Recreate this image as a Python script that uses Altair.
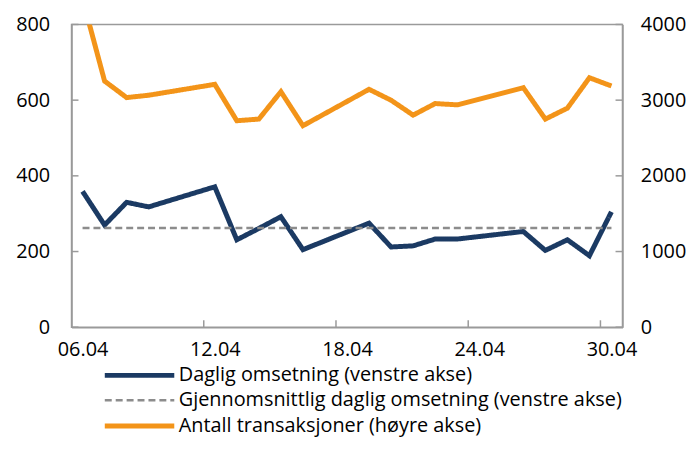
import altair as alt
import pandas as pd

# ---- data ----
days = [6, 7, 8, 9, 12, 13, 14, 15, 16, 19, 20, 21, 22, 23, 26, 27, 28, 29, 30]
daglig = [359, 270, 330, 318, 371, 231, 261, 292, 205, 275, 212, 215, 233, 233, 253, 203, 231, 189, 305]
antall = [4340, 3252, 3034, 3065, 3209, 2728, 2750, 3112, 2662, 3143, 2999, 2802, 2955, 2938, 3165, 2750, 2894, 3296, 3187]
gjennomsnitt = 262
x_label_days = [6, 12, 18, 24, 30]
x_tick_days = [11.5, 17.5, 23.5, 29.5]
left_ticks = [0, 200, 400, 600, 800]
right_ticks = [0, 1000, 2000, 3000, 4000]
series = [
    "Daglig omsetning (venstre akse)",
    "Gjennomsnittlig daglig omsetning (venstre akse)",
    "Antall transaksjoner (høyre akse)",
]

W, H = 555, 305
NAVY = "#1b3a63"
ORANGE = "#f39419"
GREY = "#8c8c8c"
AXIS = "#9a9a9a"
FONT = "Open Sans"
FS = 20

x_scale = alt.Scale(domain=[5.5, 30.5], nice=False, zero=False)
yl_scale = alt.Scale(domain=[0, 800], nice=False)
yr_scale = alt.Scale(domain=[0, 4000], nice=False)

x_axis = alt.Axis(values=x_label_days, labelExpr="format(datum.value,'02d') + '.04'",
                  title=None, ticks=False, grid=False, labelPadding=12)
left_axis = alt.Axis(title=None, values=left_ticks, ticks=False, grid=False, labelPadding=22)
right_axis = alt.Axis(title=None, orient="right", values=right_ticks, format="d", ticks=False,
                      grid=False, labelPadding=18)

legend = alt.Legend(title=None, orient="none", legendX=31, legendY=341,
                    symbolType="M-1,0L6,0", symbolSize=400, labelFontSize=FS, labelFont=FONT,
                    labelColor="#000000", labelOffset=52, rowPadding=3, labelLimit=0,
                    direction="vertical")

color = alt.Color("series:N", scale=alt.Scale(domain=series, range=[NAVY, GREY, ORANGE]), legend=legend)
dash = alt.StrokeDash("series:N", scale=alt.Scale(type="ordinal", domain=series,
                                                   range=[[1, 0], [7, 4], [1, 0]]), legend=legend)
sw = alt.StrokeWidth("series:N", scale=alt.Scale(type="ordinal", domain=series,
                                                  range=[5, 2.5, 5]), legend=legend)

df_d = pd.DataFrame({"day": days, "value": daglig, "series": series[0]})
df_avg = pd.DataFrame({"day": [days[0], days[-1]], "value": [gjennomsnitt, gjennomsnitt], "series": series[1]})
df_a = pd.DataFrame({"day": days, "value": antall, "series": series[2]})

x_enc = alt.X("day:Q", scale=x_scale, axis=x_axis)

blue = alt.Chart(df_d).mark_line().encode(
    x=x_enc, y=alt.Y("value:Q", scale=yl_scale, axis=left_axis),
    color=color, strokeDash=dash, strokeWidth=sw)
avg = alt.Chart(df_avg).mark_line().encode(
    x=x_enc, y=alt.Y("value:Q", scale=yl_scale, axis=left_axis),
    color=color, strokeDash=dash, strokeWidth=sw)
lticks = alt.Chart(pd.DataFrame({"value": left_ticks})).mark_rule(color=AXIS, strokeWidth=1.5).encode(
    y=alt.Y("value:Q", scale=yl_scale, axis=left_axis), x=alt.value(0), x2=alt.value(7))
xticks = alt.Chart(pd.DataFrame({"day": x_tick_days})).mark_rule(color=AXIS, strokeWidth=1.5).encode(
    x=x_enc, y=alt.value(H - 7), y2=alt.value(H))

left = alt.layer(blue, avg, lticks, xticks)

orange = alt.Chart(df_a).mark_line(clip=True).encode(
    x=x_enc, y=alt.Y("value:Q", scale=yr_scale, axis=right_axis),
    color=color, strokeDash=dash, strokeWidth=sw)
rticks = alt.Chart(pd.DataFrame({"value": right_ticks})).mark_rule(color=AXIS, strokeWidth=1.5).encode(
    y=alt.Y("value:Q", scale=yr_scale, axis=right_axis), x=alt.value(W - 7), x2=alt.value(W))

right = alt.layer(orange, rticks)

chart = alt.layer(left, right).resolve_scale(y="independent").properties(
    width=W, height=H,
    autosize=alt.AutoSizeParams(type="none"),
    padding={"left": 64, "top": 15, "right": 66, "bottom": 109},
    background="white",
).configure_view(
    stroke=AXIS, strokeWidth=1.5
).configure_axis(
    domainColor=AXIS, domainWidth=1.5, labelFont=FONT, labelFontSize=FS, labelColor="#000000"
)

chart.save("out.html", embed_options={"renderer": "svg", "actions": False})
